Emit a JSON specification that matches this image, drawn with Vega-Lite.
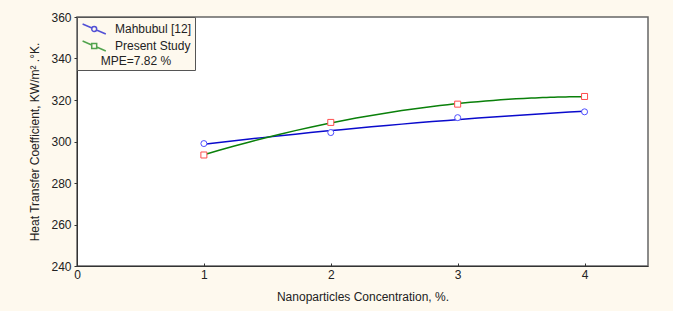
{
  "$schema": "https://vega.github.io/schema/vega-lite/v6.json",
  "width": 571,
  "height": 249,
  "autosize": {"type": "none"},
  "padding": {"left": 77, "top": 17, "right": 25, "bottom": 45},
  "background": "#FEF9EE",
  "config": {
    "font": "Liberation Sans",
    "view": {"stroke": "#666666", "strokeWidth": 1.5, "fill": "white"},
    "axis": {
      "labelFontSize": 12,
      "titleFontSize": 12,
      "labelColor": "#222222",
      "titleColor": "#222222",
      "titleFontWeight": "normal",
      "grid": false,
      "domainColor": "#333333",
      "tickColor": "#333333",
      "labelFont": "Liberation Sans",
      "titleFont": "Liberation Sans"
    }
  },
  "data": {
    "values": [
      {"x": 1, "y": 299.0, "series": "Mahbubul [12]"},
      {"x": 2, "y": 304.3, "series": "Mahbubul [12]"},
      {"x": 3, "y": 311.5, "series": "Mahbubul [12]"},
      {"x": 4, "y": 314.3, "series": "Mahbubul [12]"},
      {"x": 1, "y": 293.5, "series": "Present Study"},
      {"x": 2, "y": 309.2, "series": "Present Study"},
      {"x": 3, "y": 318.0, "series": "Present Study"},
      {"x": 4, "y": 321.7, "series": "Present Study"}
    ]
  },
  "layer": [
    {
      "transform": [
        {"regression": "y", "on": "x", "groupby": ["series"], "method": "poly", "order": 2, "extent": [1, 4]}
      ],
      "mark": {"type": "line", "strokeWidth": 1.5},
      "encoding": {
        "x": {
          "field": "x", "type": "quantitative",
          "scale": {"domain": [0, 4.5], "nice": false},
          "axis": {"values": [0, 1, 2, 3, 4], "format": "d", "tickSize": -3, "labelPadding": 6, "title": "Nanoparticles Concentration, %.", "titlePadding": 11, "labelFlush": false}
        },
        "y": {
          "field": "y", "type": "quantitative",
          "scale": {"domain": [240, 360], "nice": false, "zero": false},
          "axis": {"values": [240, 260, 280, 300, 320, 340, 360], "tickSize": 3, "labelPadding": 3, "title": "Heat Transfer Coefficient, KW/m² .°K.", "titlePadding": 9}
        },
        "color": {
          "field": "series", "type": "nominal",
          "scale": {"domain": ["Mahbubul [12]", "Present Study"], "range": ["#0A0ACC", "#0A800A"]},
          "legend": null
        }
      }
    },
    {
      "mark": {"type": "point", "filled": false, "fill": "white", "strokeWidth": 1, "opacity": 1},
      "encoding": {
        "x": {"field": "x", "type": "quantitative"},
        "y": {"field": "y", "type": "quantitative"},
        "shape": {
          "field": "series", "type": "nominal",
          "scale": {"domain": ["Mahbubul [12]", "Present Study"], "range": ["circle", "square"]},
          "legend": null
        },
        "stroke": {
          "field": "series", "type": "nominal",
          "scale": {"domain": ["Mahbubul [12]", "Present Study"], "range": ["#4D4DFF", "#FF4D4D"]},
          "legend": null
        },
        "size": {"value": 36}
      }
    },
    {
      "transform": [{"filter": "datum.x > 100"}],
      "mark": {"type": "point", "filled": false, "strokeWidth": 1.5},
      "encoding": {
        "x": {"field": "x", "type": "quantitative"},
        "y": {"field": "y", "type": "quantitative"},
        "shape": {
          "field": "series", "type": "nominal",
          "scale": {
            "domain": ["Mahbubul [12]", "Present Study"],
            "range": [
              "M-0.8,-0.62L0.365,-0.12M0.935,0.12L2.1,0.62M0.96,0A0.31,0.31,0,1,1,0.34,0A0.31,0.31,0,1,1,0.96,0Z",
              "M-0.8,-0.62L0.34,-0.13M0.96,0.13L2.1,0.62M0.34,-0.31H0.96V0.31H0.34Z"
            ]
          },
          "legend": {
            "orient": "top-left",
            "offset": 0,
            "title": "MPE=7.82 %",
            "titleOrient": "bottom",
            "titleAnchor": "middle",
            "titleFontWeight": "normal",
            "titleFontSize": 12,
            "titleFont": "Liberation Sans",
            "titleColor": "#222222",
            "titlePadding": 2,
            "labelFontSize": 12,
            "labelFont": "Liberation Sans",
            "labelColor": "#222222",
            "labelOffset": 17,
            "symbolSize": 256,
            "symbolStrokeWidth": 1.5,
            "rowPadding": 0,
            "padding": 3,
            "fillColor": "#FEF9EE",
            "strokeColor": "#555555"
          }
        },
        "color": {
          "field": "series", "type": "nominal",
          "scale": {"domain": ["Mahbubul [12]", "Present Study"], "range": ["#0A0ACC", "#0A800A"]},
          "legend": {
            "orient": "top-left",
            "offset": 0,
            "title": "MPE=7.82 %",
            "titleOrient": "bottom",
            "titleAnchor": "middle",
            "titleFontWeight": "normal",
            "titleFontSize": 12,
            "titleFont": "Liberation Sans",
            "titleColor": "#222222",
            "titlePadding": 2,
            "labelFontSize": 12,
            "labelFont": "Liberation Sans",
            "labelColor": "#222222",
            "labelOffset": 17,
            "symbolSize": 256,
            "symbolStrokeWidth": 1.5,
            "rowPadding": 0,
            "padding": 3,
            "fillColor": "#FEF9EE",
            "strokeColor": "#555555"
          }
        }
      }
    }
  ],
  "resolve": {"scale": {"color": "independent", "shape": "independent", "stroke": "independent"}}
}
